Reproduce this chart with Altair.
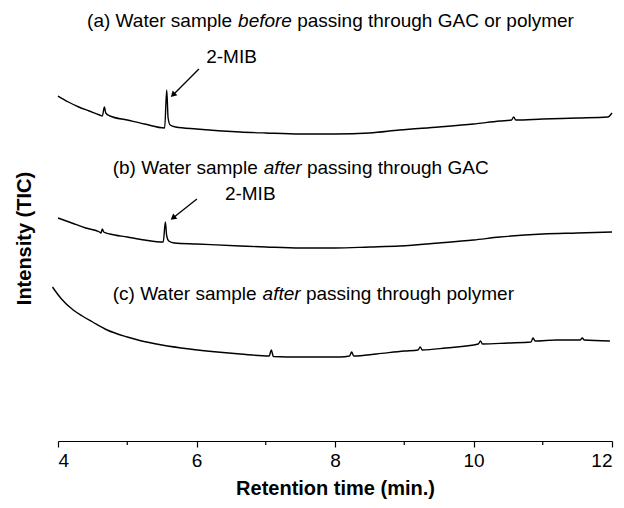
import altair as alt
import pandas as pd

# ---- chromatogram traces (retention time in min, intensity in arbitrary units) ----
TIME_A = [4.00, 4.15, 4.30, 4.45, 4.60, 4.64, 4.67, 4.69, 4.75, 5.00, 5.25, 5.54, 5.57, 5.59, 5.62,
          5.70, 6.00, 6.63, 7.00, 7.50, 8.00, 8.50, 8.93, 9.50, 10.00, 10.38, 10.55, 10.58, 10.61,
          11.00, 11.50, 11.94, 12.00]
INT_A = [345, 339, 334, 330, 326, 325, 334, 328, 325, 321, 317, 313, 351, 323, 316,
         314, 312, 309, 308, 307, 307, 308, 311, 314, 317, 320, 321, 324, 321,
         322, 323, 324, 328]

TIME_B = [4.00, 4.20, 4.40, 4.60, 4.62, 4.64, 4.66, 4.75, 5.00, 5.25, 5.52, 5.55, 5.57, 5.60,
          5.68, 6.00, 6.63, 7.00, 7.50, 8.00, 8.50, 8.93, 9.50, 10.00, 10.38, 11.00, 11.50, 12.00]
INT_B = [223, 218, 213, 209, 208, 212, 209, 207, 204, 201, 199, 219, 205, 200,
         198, 197, 195, 194, 193, 193, 194, 195, 198, 201, 204, 207, 208, 209]

TIME_C = [3.92, 4.05, 4.22, 4.35, 4.50, 4.71, 5.00, 5.18, 5.50, 5.90, 6.30, 6.63, 7.05, 7.08, 7.11,
          7.50, 8.07, 8.21, 8.24, 8.27, 8.60, 9.00, 9.20, 9.23, 9.26, 9.60, 10.07, 10.10, 10.13,
          10.50, 10.83, 10.86, 10.89, 11.20, 11.54, 11.57, 11.60, 11.97]
INT_C = [154, 142, 131, 125, 119, 111, 104, 100.5, 96, 92, 89, 87, 85, 91, 84.5,
         84, 84, 85, 89, 85, 87, 90, 91, 94, 91, 93, 97, 100, 97,
         98, 99, 103, 100, 101, 101, 103, 101, 100]

# ---- annotations ----
LABEL_PARTS = [
    ["(a) Water sample ", "before", " passing through GAC or polymer"],
    ["(b) Water sample ", "after", " passing through GAC"],
    ["(c) Water sample ", "after", " passing through polymer"],
]
LABEL_T = [4.42, 4.79, 4.79]
LABEL_V = [414, 267, 141]

MIB_TEXT = ["2-MIB", "2-MIB"]
MIB_T = [6.14, 6.41]
MIB_V = [378, 241]

ARROW_T0 = [6.035, 6.006]
ARROW_V0 = [372, 242]
ARROW_T1 = [5.66, 5.66]
ARROW_V1 = [346, 223]
ARROW_ANGLE = [225, 232]

X_TICKS = [4, 6, 8, 10, 12]
X_MINOR = [5, 7, 9, 11]

# ---- layout ----
W, H = 554, 431
X_DOMAIN = [4, 12]
Y_DOMAIN = [0, 431]
FONT = "Liberation Sans"
FS = 19

ARIAL = {" ": 278, "(": 333, ")": 333, "a": 556, "b": 556, "c": 500, "e": 556, "f": 278,
         "g": 556, "h": 556, "i": 222, "l": 222, "m": 833, "n": 556, "o": 556, "p": 556,
         "r": 333, "s": 500, "t": 278, "u": 556, "y": 500, "W": 944, "G": 778, "A": 667,
         "C": 722, "P": 667}


def text_w(s):
    return sum(ARIAL.get(ch, 556) for ch in s) * FS / 1000.0


xs = alt.Scale(domain=X_DOMAIN, nice=False, zero=False)
ys = alt.Scale(domain=Y_DOMAIN, nice=False, zero=False)

rows = []
for name, ts, vs in (("a", TIME_A, INT_A), ("b", TIME_B, INT_B), ("c", TIME_C, INT_C)):
    for i, (t, v) in enumerate(zip(ts, vs)):
        rows.append({"trace": name, "t": t, "v": v, "i": i})
df = pd.DataFrame(rows)

lines = alt.Chart(df).mark_line(color="black", strokeWidth=1.4, clip=False,
                                interpolate="monotone").encode(
    x=alt.X("t:Q", scale=xs,
            axis=alt.Axis(values=X_TICKS, format="d", grid=False, title="Retention time (min.)",
                          domainColor="black", tickColor="black", tickSize=6, tickWidth=1.2,
                          domainWidth=1.2, labelColor="black", labelFontSize=FS, labelFont=FONT,
                          labelPadding=4, titleFont=FONT, titleFontSize=20, titleFontWeight="bold",
                          titleColor="black", titlePadding=8)),
    y=alt.Y("v:Q", scale=ys,
            axis=alt.Axis(domain=False, ticks=False, labels=False, grid=False,
                          title="Intensity (TIC)", titleFont=FONT, titleFontSize=20,
                          titleFontWeight="bold", titleColor="black", titlePadding=24,
                          titleY=228)),
    detail="trace:N",
    order="i:Q",
)

minor = alt.Chart(pd.DataFrame({"t": X_MINOR})).mark_rule(color="black", strokeWidth=1.2).encode(
    x=alt.X("t:Q", scale=xs),
    y=alt.value(H),
    y2=alt.value(H + 4),
)

layers = [lines, minor]

for parts, t0, v0 in zip(LABEL_PARTS, LABEL_T, LABEL_V):
    offs = [0.0, text_w(parts[0]), text_w(parts[0] + parts[1])]
    styles = ["normal", "italic", "normal"]
    for seg, off, st in zip(parts, offs, styles):
        d = pd.DataFrame({"t": [t0], "v": [v0], "txt": [seg.strip()]})
        dx = off + (text_w(" ") if seg.startswith(" ") else 0)
        layers.append(
            alt.Chart(d).mark_text(align="left", baseline="alphabetic", font=FONT, fontSize=FS,
                                   fontStyle=st, color="black", dx=dx).encode(
                x=alt.X("t:Q", scale=xs), y=alt.Y("v:Q", scale=ys), text="txt:N")
        )

mib = pd.DataFrame({"t": MIB_T, "v": MIB_V, "txt": MIB_TEXT})
layers.append(
    alt.Chart(mib).mark_text(align="left", baseline="alphabetic", font=FONT, fontSize=FS,
                             color="black").encode(
        x=alt.X("t:Q", scale=xs), y=alt.Y("v:Q", scale=ys), text="txt:N")
)

arr = pd.DataFrame({"t0": ARROW_T0, "v0": ARROW_V0, "t1": ARROW_T1, "v1": ARROW_V1,
                    "ang": ARROW_ANGLE})
layers.append(
    alt.Chart(arr).mark_rule(color="black", strokeWidth=1.3).encode(
        x=alt.X("t0:Q", scale=xs), y=alt.Y("v0:Q", scale=ys),
        x2="t1:Q", y2="v1:Q")
)
layers.append(
    alt.Chart(arr).mark_point(shape="triangle-up", filled=True, color="black", size=45,
                              opacity=1).encode(
        x=alt.X("t1:Q", scale=xs), y=alt.Y("v1:Q", scale=ys),
        angle=alt.Angle("ang:Q", scale=None))
)

chart = alt.layer(*layers).properties(
    width=W, height=H,
    autosize=alt.AutoSizeParams(type="none"),
    padding={"left": 50, "top": 2, "right": 4, "bottom": 60},
    background="white",
).configure_view(stroke=None)

chart.save("out.html", embed_options={"renderer": "svg", "actions": False})
